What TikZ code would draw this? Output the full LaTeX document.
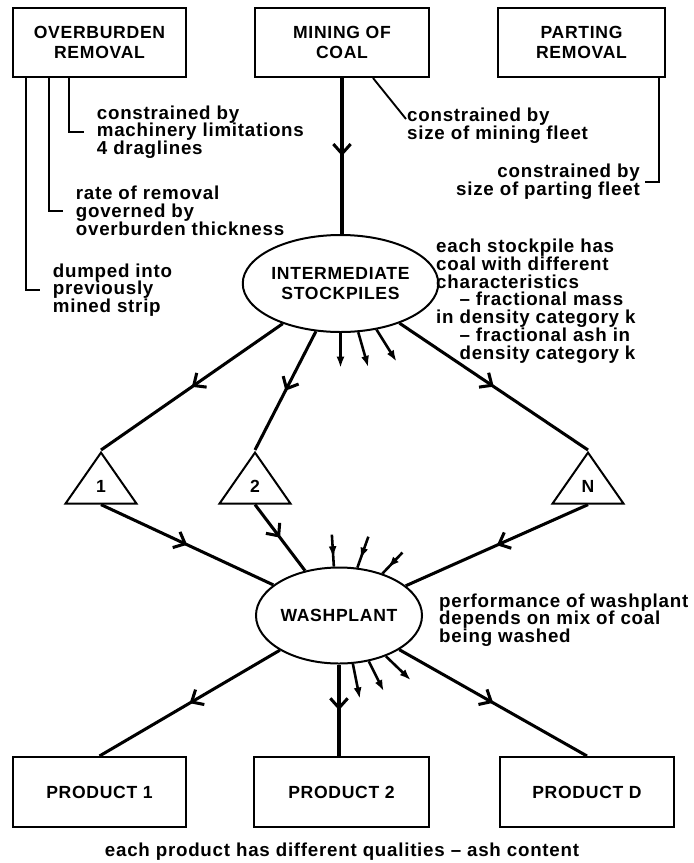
\documentclass[tikz,border=0pt]{standalone}
\usepackage{fontspec}
\setmainfont{Liberation Sans}[LetterSpace=4]
\usepackage{tikz}
\usetikzlibrary{shapes.geometric,arrows.meta,decorations.markings,positioning,calc}

\begin{document}
\begin{tikzpicture}[x=0.03cm,y=-0.03cm,
    font=\fontsize{16}{15.2}\selectfont\bfseries,
    box/.style={draw,line width=1.7pt,align=center,inner sep=0pt,minimum height=2.07cm,
        font=\fontsize{15}{14.9}\selectfont\bfseries},
    pile/.style={draw,ellipse,line width=1.7pt,align=center,inner sep=0pt,
        font=\fontsize{15}{14.9}\selectfont\bfseries},
    bin/.style={draw,isosceles triangle,shape border rotate=90,isosceles triangle stretches,
        line width=1.7pt,inner sep=0pt,minimum width=2.13cm,minimum height=1.53cm,
        font=\fontsize{15}{14.9}\selectfont\bfseries},
    note/.style={align=left,inner xsep=0.38cm,inner ysep=0pt},
    lead/.style={line width=1.6pt},
    flow/.style={line width=2.6pt,postaction={decorate},
        decoration={markings,mark=at position 0.5 with {\arrow{Straight Barb[length=0.29cm,width=0.52cm]}}}},
    smallout/.style={line width=2.2pt,-{Latex[length=0.34cm,width=0.24cm]}},
    smallin/.style={line width=2.2pt,postaction={decorate},
        decoration={markings,mark=at position 0.72 with {\arrow{Latex[length=0.34cm,width=0.24cm]}}}}]
    \useasboundingbox (0,0) rectangle (693,863);

    % sources
    \node[box,minimum width=5.19cm] (ob) at (99.5,42.5) {OVERBURDEN\\[1.5pt]REMOVAL};
    \node[box,minimum width=5.22cm] (mine) at (342,42.5) {MINING OF\\[1.5pt]COAL};
    \node[box,minimum width=5.01cm] (part) at (581.5,42.5) {PARTING\\[1.5pt]REMOVAL};

    % stockpiles and washplant
    \node[pile,minimum width=5.07cm,minimum height=2.91cm] (istock) at (340.5,283.5) {INTERMEDIATE\\[2pt]STOCKPILES};
    \node[bin,anchor=north] (t1) at (101,450) {1};
    \node[bin,anchor=north] (t2) at (255,450) {2};
    \node[bin,anchor=north] (tn) at (588,450) {N};
    \node[pile,minimum width=4.98cm,minimum height=2.88cm] (wash) at (339,615.5) {WASHPLANT};

    % products
    \node[box,minimum width=5.19cm,minimum height=2.1cm] (p1) at (99.5,792) {PRODUCT 1};
    \node[box,minimum width=5.25cm,minimum height=2.1cm] (p2) at (341.5,792) {PRODUCT 2};
    \node[box,minimum width=5.22cm,minimum height=2.1cm] (pd) at (587,792) {PRODUCT D};

    % notes
    \node[note,anchor=west] (drag) at (84,132) {constrained by\\machinery limitations\\4 draglines};
    \node[note,anchor=west] (rate) at (63,211) {rate of removal\\governed by\\overburden thickness};
    \node[note,anchor=west] (dump) at (40,290) {dumped into\\previously\\mined strip};
    \node[anchor=north west,align=left,inner sep=0pt] (mfleet) at (407,108) {constrained by\\size of mining fleet};
    \node[note,anchor=east,align=right,inner xsep=0.15cm] (pfleet) at (645,182) {constrained by\\size of parting fleet};
    \node[anchor=west,align=left,inner sep=0pt] (chars) at (436,301) {each stockpile has\\coal with different\\characteristics\\
        \hspace*{0.7cm}-- fractional mass\\in density category k\\\hspace*{0.7cm}-- fractional ash in\\\hspace*{0.7cm}density category k};
    \node[anchor=west,align=left,inner sep=0pt] (perf) at (439,620) {performance of washplant\\depends on mix of coal\\being washed};
    \node[inner sep=0pt] (qual) at (342,852) {each product has different qualities -- ash content};

    % leaders
    \draw[lead] (ob.south west) ++(57,0) |- (drag.west);
    \draw[lead] (ob.south west) ++(37,0) |- (rate.west);
    \draw[lead] (ob.south west) ++(14,0) |- (dump.west);
    \draw[lead] (mine.south) ++(31,0) -- ++(33,41);
    \draw[lead] (part.south east) ++(-7,0) |- (pfleet.east);

    % coal flow
    \draw[flow] (mine.south) -- (mine.south |- istock.north);
    \draw[flow] (istock) -- (t1.north);
    \draw[flow] (istock) -- (t2.north);
    \draw[flow] (istock) -- (tn.north);
    \draw[flow] (t1.south) -- (wash);
    \draw[flow] (t2.south) -- (wash);
    \draw[flow] (tn.south) -- (wash);
    \draw[flow] (wash) -- (p1.north);
    \draw[flow] (wash.south) -- (wash.south |- p2.north);
    \draw[flow] (wash) -- (pd.north);
    \foreach \a/\dx/\dy in {-90/0/35,-70/10/35,-52/20/32}
        \draw[smallout] (istock.\a) -- ++(\dx,\dy);
    \foreach \a/\dx/\dy in {96/-2/-32,69/11/-31,44/20/-21}
        \draw[smallin] ($(wash.\a)+(\dx,\dy)$) -- (wash.\a);
    \foreach \a/\dx/\dy in {-74/7/35,-57/15/30,-41.5/25/24}
        \draw[smallout] (wash.\a) -- ++(\dx,\dy);
\end{tikzpicture}
\end{document}
